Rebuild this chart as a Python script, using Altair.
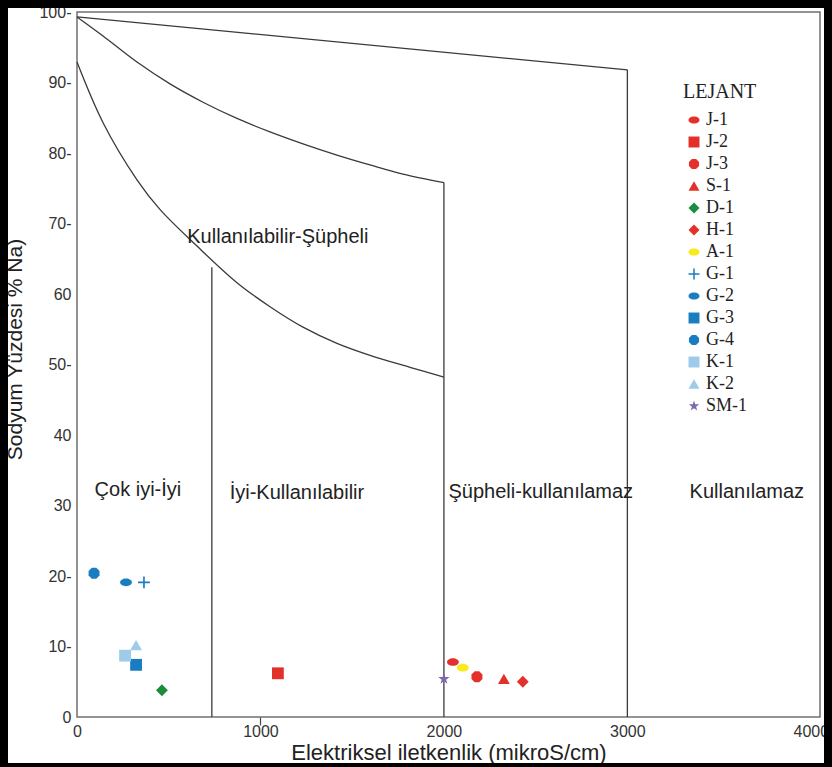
import altair as alt
import pandas as pd

# --- sample points: electrical conductivity (µS/cm) vs sodium percentage ---
samples = ["J-1", "J-2", "J-3", "S-1", "D-1", "H-1", "A-1",
           "G-1", "G-2", "G-3", "G-4", "K-1", "K-2", "SM-1"]
ec_values = [2049, 1095, 2180, 2327, 463, 2430, 2103,
             365, 267, 322, 93, 262, 322, 2000]
na_percent = [7.8, 6.2, 5.7, 5.4, 3.8, 5.0, 7.0,
              19.1, 19.1, 7.4, 20.4, 8.7, 10.2, 5.4]

RED, BLUE, LIGHT_BLUE = "#e3302b", "#1a7cc1", "#9ecbe9"
sample_colors = [RED, RED, RED, RED, "#1b8c3c", RED, "#f8ea1c",
                 BLUE, BLUE, BLUE, BLUE, LIGHT_BLUE, LIGHT_BLUE, "#7c6aab"]

ELLIPSE = "M-1,0 A1,0.65 0 1,0 1,0 A1,0.65 0 1,0 -1,0 Z"
OCTAGON = ("M0.924,0.383 L0.383,0.924 L-0.383,0.924 L-0.924,0.383 "
           "L-0.924,-0.383 L-0.383,-0.924 L0.383,-0.924 L0.924,-0.383 Z")
PLUS = ("M-1,-0.14 L-0.14,-0.14 L-0.14,-1 L0.14,-1 L0.14,-0.14 L1,-0.14 "
        "L1,0.14 L0.14,0.14 L0.14,1 L-0.14,1 L-0.14,0.14 L-1,0.14 Z")
STAR = ("M0,-1 L0.235,-0.324 L0.951,-0.309 L0.380,0.124 L0.588,0.809 "
        "L0,0.4 L-0.588,0.809 L-0.380,0.124 L-0.951,-0.309 L-0.235,-0.324 Z")
sample_shapes = [ELLIPSE, "square", OCTAGON, "triangle-up", "diamond", "diamond",
                 ELLIPSE, PLUS, ELLIPSE, "square", OCTAGON, "square",
                 "triangle-up", STAR]

# --- class boundaries of the diagram ---
upper_line_ec = [0, 3000]
upper_line_na = [99.3, 91.8]
middle_curve_ec = [0, 142, 327, 507, 687, 872, 1052, 1232, 1417, 1597, 1777, 2000]
middle_curve_na = [99.3, 96.6, 92.9, 89.8, 87.2, 84.9, 83.0, 81.3, 79.7, 78.3, 77.0, 75.8]
lower_curve_ec = [0, 142, 327, 452, 654, 872, 1052, 1232, 1417, 1597, 1815, 2000]
lower_curve_na = [92.9, 84.3, 76.2, 72.0, 66.8, 61.6, 58.2, 55.3, 53.0,
                  51.3, 49.6, 48.2]

divider_ec = [735, 2000, 3000]
divider_top = [63.8, 75.8, 91.8]

# --- class names ---
class_labels = ["Kullanılabilir-Şüpheli", "Çok iyi-İyi", "İyi-Kullanılabilir",
                "Şüpheli-kullanılamaz", "Kullanılamaz"]
class_label_ec = [1095, 332, 1199, 2528, 3651]
class_label_na = [68.1, 32.2, 31.8, 31.9, 31.9]

# --- axis ticks ---
x_ticks = [0, 1000, 2000, 3000, 4000]
y_ticks = [0, 10, 20, 30, 40, 50, 60, 70, 80, 90, 100]
y_tick_labels = ["0", "10-", "20-", "30", "40", "50-", "60", "70-", "80-", "90-", "100-"]

SANS = "Liberation Sans"
SERIF = "Liberation Serif"
LINE_COLOR = "#3a3a3a"

y_label_expr = "".join(
    f"datum.value == {v} ? '{t}' : " for v, t in zip(y_ticks, y_tick_labels)
) + "''"

x_scale = alt.Scale(domain=[0, 4050], nice=False, zero=False)
y_scale = alt.Scale(domain=[0, 100], nice=False, zero=False)

x_axis = alt.Axis(
    values=x_ticks, format="d", title="Elektriksel iletkenlik (mikroS/cm)",
    grid=False, domain=False, tickSize=8, tickWidth=1.2,
    tickColor={"condition": {"test": "datum.value === 1000", "value": "#444"},
               "value": "transparent"},
    labelFont=SANS, labelFontSize=16, labelColor="#333", labelPadding=-2,
    labelFlush=False, titleFont=SANS, titleFontSize=22,
    titleFontWeight="normal", titleColor="#222",
    titleY=42, titleBaseline="alphabetic",
)
y_axis = alt.Axis(
    values=y_ticks, labelExpr=y_label_expr, title="Sodyum Yüzdesi % Na)",
    grid=False, domain=False, ticks=False, labelPadding=6,
    labelFont=SANS, labelFontSize=16, labelColor="#333",
    titleFont=SANS, titleFontSize=21, titleFontWeight="normal",
    titleColor="#222", titleX=-52, titleY=337,
)

# boundary lines
curves = pd.DataFrame({
    "ec": upper_line_ec + middle_curve_ec + lower_curve_ec,
    "na": upper_line_na + middle_curve_na + lower_curve_na,
    "curve": (["upper"] * len(upper_line_ec) + ["middle"] * len(middle_curve_ec)
              + ["lower"] * len(lower_curve_ec)),
})
curve_layer = alt.Chart(curves).mark_line(
    color=LINE_COLOR, strokeWidth=1.3, interpolate="catmull-rom"
).encode(
    x=alt.X("ec:Q", scale=x_scale, axis=x_axis),
    y=alt.Y("na:Q", scale=y_scale, axis=y_axis),
    detail="curve:N",
)

dividers = pd.DataFrame({"ec": divider_ec, "top": divider_top,
                         "bottom": [0] * len(divider_ec)})
divider_layer = alt.Chart(dividers).mark_rule(
    color=LINE_COLOR, strokeWidth=1.3
).encode(
    x=alt.X("ec:Q", scale=x_scale),
    y=alt.Y("top:Q", scale=y_scale),
    y2="bottom:Q",
)

labels = pd.DataFrame({"text": class_labels, "ec": class_label_ec,
                       "na": class_label_na})
label_layer = alt.Chart(labels).mark_text(
    font=SANS, fontSize=20, color="#222", align="center", baseline="middle"
).encode(
    x=alt.X("ec:Q", scale=x_scale),
    y=alt.Y("na:Q", scale=y_scale),
    text="text:N",
)

points = pd.DataFrame({"sample": samples, "ec": ec_values, "na": na_percent})
legend = alt.Legend(
    title="LEJANT", orient="none", legendX=606, legendY=70, padding=0,
    titleFont=SERIF, titleFontSize=20, titleFontWeight="normal",
    titleColor="#222", titlePadding=9,
    labelFont=SERIF, labelFontSize=18, labelColor="#222", labelOffset=3,
    symbolSize=120, symbolStrokeWidth=0, symbolOffset=2, rowPadding=4,
)
point_layer = alt.Chart(points).mark_point(
    filled=True, opacity=1, size=140, strokeWidth=0
).encode(
    x=alt.X("ec:Q", scale=x_scale),
    y=alt.Y("na:Q", scale=y_scale),
    color=alt.Color("sample:N", scale=alt.Scale(domain=samples, range=sample_colors),
                    legend=legend, sort=samples),
    shape=alt.Shape("sample:N", scale=alt.Scale(domain=samples, range=sample_shapes),
                    legend=legend, sort=samples),
)

# heavy black frame around the whole figure
frame_layer = alt.Chart(pd.DataFrame({"f": [0]})).mark_rect(
    filled=False, stroke="black", strokeWidth=8
).encode(
    x=alt.value(-73), x2=alt.value(751), y=alt.value(-8), y2=alt.value(755),
)

chart = alt.layer(
    curve_layer, divider_layer, label_layer, point_layer, frame_layer
).properties(
    width=743, height=705,
    autosize=alt.AutoSizeParams(type="none"),
    padding={"left": 77, "top": 12, "right": 12, "bottom": 50},
    background="white",
).configure_view(
    stroke="#707070", strokeWidth=1.5
)

chart.save("out.html", embed_options={"renderer": "svg", "actions": False})
